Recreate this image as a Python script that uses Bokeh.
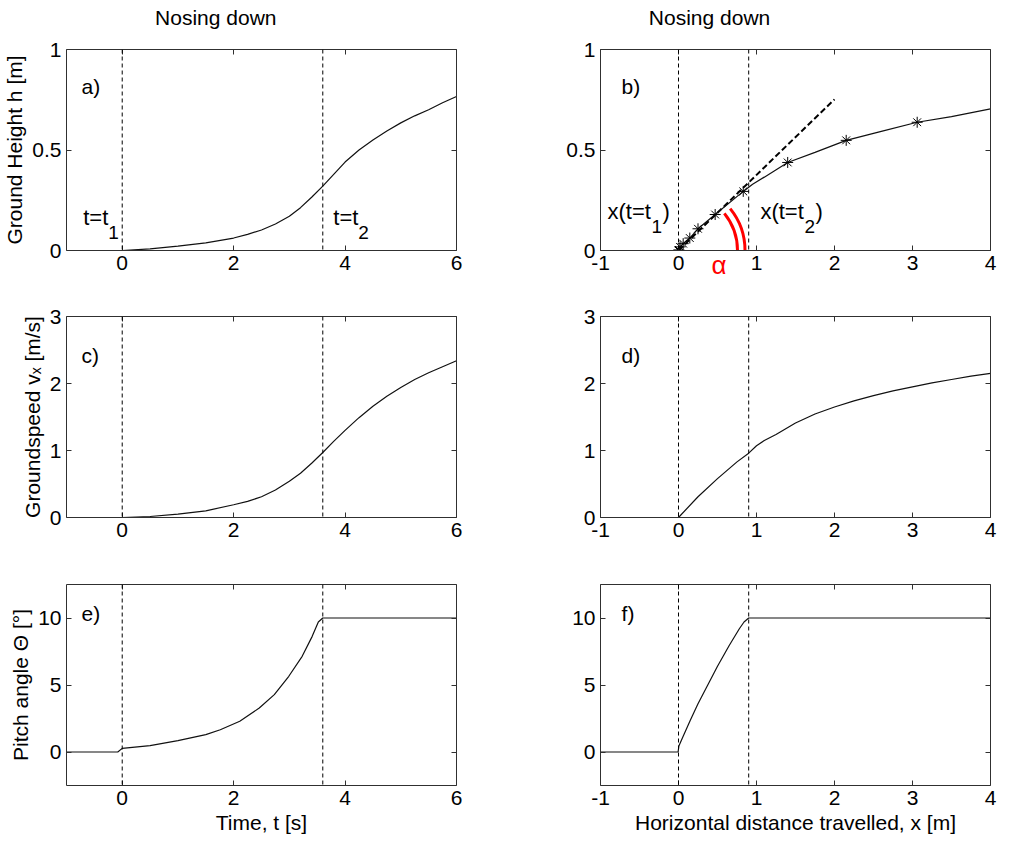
from bokeh.plotting import figure
from bokeh.models import (Range1d, LinearAxis, FixedTicker, NumeralTickFormatter,
                          Label, Span, ColumnDataSource)
from bokeh.layouts import gridplot
from bokeh.embed import file_html
from bokeh.resources import INLINE

# ---------------- data ----------------
# a) ground height vs time
a_t = [0, 0.5, 1, 1.5, 2, 2.25, 2.5, 2.75, 3, 3.2, 3.4, 3.6, 3.8, 4, 4.25, 4.5, 4.75, 5, 5.25, 5.5, 5.75, 6]
a_h = [0, 0.008, 0.022, 0.038, 0.062, 0.08, 0.102, 0.132, 0.17, 0.213, 0.265, 0.32, 0.38, 0.44,
       0.50, 0.55, 0.595, 0.635, 0.67, 0.70, 0.735, 0.766]

# b) ground height vs horizontal distance
b_x = [0, 0.02, 0.06, 0.145, 0.25, 0.47, 0.83, 0.95, 1.1, 1.4, 1.75, 2.15, 2.6, 3.06, 3.5, 4.0]
b_h = [0, 0.018, 0.034, 0.062, 0.108, 0.179, 0.294, 0.33, 0.365, 0.438, 0.488, 0.548, 0.593, 0.638, 0.666, 0.705]
b_marker_x = [0, 0.005, 0.02, 0.06, 0.145, 0.25, 0.47, 0.83, 1.4, 2.15, 3.06]
b_marker_h = [0, 0.003, 0.018, 0.034, 0.062, 0.108, 0.179, 0.294, 0.438, 0.548, 0.638]
tangent_x = [0, 2.0]
tangent_h = [0, 0.752]
alpha_arc_deg = [0, 39]

# c) groundspeed vs time
c_t = [0, 0.5, 1, 1.5, 2, 2.25, 2.5, 2.75, 3, 3.2, 3.4, 3.6, 3.8, 4, 4.25, 4.5, 4.75, 5, 5.25, 5.5, 5.75, 6]
c_v = [0, 0.015, 0.05, 0.10, 0.19, 0.24, 0.31, 0.41, 0.54, 0.66, 0.81, 0.97, 1.14, 1.30,
       1.49, 1.66, 1.81, 1.94, 2.06, 2.16, 2.25, 2.34]

# d) groundspeed vs horizontal distance
d_x = [0, 0.25, 0.5, 0.75, 0.9, 1.0, 1.1, 1.25, 1.5, 1.75, 2.0, 2.25, 2.5, 2.75, 3.0, 3.25, 3.5, 3.75, 4.0]
d_v = [0, 0.31, 0.58, 0.83, 0.96, 1.07, 1.15, 1.24, 1.41, 1.545, 1.65, 1.74, 1.82, 1.89, 1.95, 2.01, 2.06, 2.11, 2.15]

# e) pitch angle vs time
e_t = [-1, -0.08, 0, 0.5, 1, 1.5, 1.76, 2.11, 2.46, 2.73, 2.99, 3.23, 3.41, 3.52, 3.6, 6]
e_th = [0, 0, 0.27, 0.47, 0.85, 1.3, 1.66, 2.29, 3.28, 4.28, 5.65, 7.14, 8.63, 9.7, 10, 10]

# f) pitch angle vs horizontal distance
f_x = [-1, -0.005, 0.005, 0.05, 0.15, 0.25, 0.37, 0.5, 0.65, 0.78, 0.84, 0.9, 4]
f_th = [0, 0, 0.45, 1.05, 2.35, 3.6, 4.95, 6.4, 7.95, 9.2, 9.7, 10, 10]

t_events = [0, 3.6]      # t = t1, t = t2
x_events = [0, 0.9]      # x(t1), x(t2)

t_ticks = [0, 2, 4, 6]
x_ticks = [-1, 0, 1, 2, 3, 4]
h_ticks = [0, 0.5, 1]
v_ticks = [0, 1, 2, 3]
th_ticks = [0, 5, 10]

t_range = (-1, 6)
x_range = (-1, 4)
h_range = (0, 1)
v_range = (0, 3)
th_range = (-2.5, 12.5)

# ---------------- styling ----------------
FONT = "Liberation Sans"
FS = "21px"
AXC = "#303030"
LINE = "#111111"
FW, FH = 390, 201


def make_axis(ticks, show, label=None):
    ax = LinearAxis(ticker=FixedTicker(ticks=ticks),
                    formatter=NumeralTickFormatter(format="0.[0]"))
    ax.major_tick_in = 5
    ax.major_tick_out = 0
    ax.minor_tick_line_color = None
    ax.axis_line_color = AXC
    ax.major_tick_line_color = AXC
    ax.major_label_text_font = FONT
    ax.major_label_text_color = "black"
    if show:
        ax.major_label_text_font_size = FS
        ax.major_label_standoff = 5
    else:
        ax.major_label_text_font_size = "0px"
        ax.major_label_standoff = 0
    if label:
        ax.axis_label = label
        ax.axis_label_text_font = FONT
        ax.axis_label_text_font_size = FS
        ax.axis_label_text_font_style = "normal"
        ax.axis_label_text_color = "black"
        ax.axis_label_standoff = 3
    return ax


def make_fig(xr, yr, xt, yt, left, right, top, bottom, xlabel=None, ylabel=None):
    p = figure(frame_width=FW, frame_height=FH,
               x_range=Range1d(*xr), y_range=Range1d(*yr),
               x_axis_location=None, y_axis_location=None,
               output_backend="svg", toolbar_location=None,
               min_border_left=left, min_border_right=right,
               min_border_top=top, min_border_bottom=bottom)
    p.grid.visible = False
    p.outline_line_color = None
    p.background_fill_color = "white"
    p.border_fill_color = "white"
    p.add_layout(make_axis(xt, True, xlabel), "below")
    p.add_layout(make_axis(yt, True, ylabel), "left")
    p.add_layout(make_axis(xt, False), "above")
    p.add_layout(make_axis(yt, False), "right")
    return p


def vlines(p, locs):
    for loc in locs:
        p.add_layout(Span(location=loc, dimension="height", line_color="black",
                          line_width=1, line_dash="4 3"))


def text(p, x, y, s, size="21px", color="black", place="center", **kw):
    p.add_layout(Label(x=x, y=y, text=s, text_font=FONT, text_font_size=size,
                       text_color=color, **kw), place)


L_LEFT, L_RIGHT = 66, 20
R_LEFT, R_RIGHT = 124, 8

# row 1
pa = make_fig(t_range, h_range, t_ticks, h_ticks, L_LEFT, L_RIGHT, 49, 32,
              ylabel="Ground Height h [m]")
vlines(pa, t_events)
pa.line(a_t, a_h, line_color=LINE, line_width=1.2)
# column heading above the frame (side-panel label so it is not clipped)
text(pa, 0.59, 1.10, "Nosing down", place="above")
text(pa, -0.73, 0.76, "a)")
text(pa, -0.70, 0.10, "t=t", size="22px")
text(pa, -0.70, 0.10, "1", size="19px", x_offset=25, y_offset=-9)
text(pa, 3.79, 0.10, "t=t", size="22px")
text(pa, 3.79, 0.10, "2", size="19px", x_offset=25, y_offset=-9)

pb = make_fig(x_range, h_range, x_ticks, h_ticks, R_LEFT, R_RIGHT, 49, 32)
vlines(pb, x_events)
pb.line(tangent_x, tangent_h, line_color="black", line_width=2, line_dash="6 3")
pb.line(b_x, b_h, line_color=LINE, line_width=1.2)
pb.scatter(b_marker_x, b_marker_h, marker="asterisk", size=11,
           line_color="black", line_width=1)
arc_src = ColumnDataSource(dict(x=[0, 0], y=[0, 0], r=[59, 66.5]))
pb.arc(x="x", y="y", radius="r", radius_units="screen", source=arc_src,
       start_angle=alpha_arc_deg[0], end_angle=alpha_arc_deg[1],
       start_angle_units="deg", end_angle_units="deg",
       line_color="#ff0000", line_width=3)
text(pb, -0.38, 1.10, "Nosing down", place="above")
text(pb, -0.73, 0.76, "b)")
text(pb, -0.91, 0.133, "x(t=t", size="22px")
text(pb, -0.91, 0.133, "1", size="19px", x_offset=44, y_offset=-9)
text(pb, -0.91, 0.133, ")", size="22px", x_offset=55)
text(pb, 1.05, 0.133, "x(t=t", size="22px")
text(pb, 1.05, 0.133, "2", size="19px", x_offset=44, y_offset=-9)
text(pb, 1.05, 0.133, ")", size="22px", x_offset=55)
# the alpha sits below the frame: put it in the (roomy) left side panel so it is not clipped
text(pb, 0.52, -0.072, "α", size="26px", color="#ff0000", place="left",
     text_align="center", text_baseline="middle")

# row 2
pc = make_fig(t_range, v_range, t_ticks, v_ticks, L_LEFT, L_RIGHT, 34, 32,
              ylabel="Groundspeed vₓ [m/s]")
vlines(pc, t_events)
pc.line(c_t, c_v, line_color=LINE, line_width=1.2)
text(pc, -0.73, 2.25, "c)")

pd_ = make_fig(x_range, v_range, x_ticks, v_ticks, R_LEFT, R_RIGHT, 34, 32)
vlines(pd_, x_events)
pd_.line(d_x, d_v, line_color=LINE, line_width=1.2)
text(pd_, -0.73, 2.25, "d)")

# row 3
pe = make_fig(t_range, th_range, t_ticks, th_ticks, L_LEFT, L_RIGHT, 35, 56,
              xlabel="Time, t [s]", ylabel="Pitch angle Θ [°]")
vlines(pe, t_events)
pe.line(e_t, e_th, line_color=LINE, line_width=1.2)
text(pe, -0.73, 9.5, "e)")

pf = make_fig(x_range, th_range, x_ticks, th_ticks, R_LEFT, R_RIGHT, 35, 56,
              xlabel="Horizontal distance travelled, x [m]")
vlines(pf, x_events)
pf.line(f_x, f_th, line_color=LINE, line_width=1.2)
text(pf, -0.73, 9.5, "f)")

grid = gridplot([[pa, pb], [pc, pd_], [pe, pf]], toolbar_location=None)

open("out.html", "w").write(file_html(grid, INLINE))
